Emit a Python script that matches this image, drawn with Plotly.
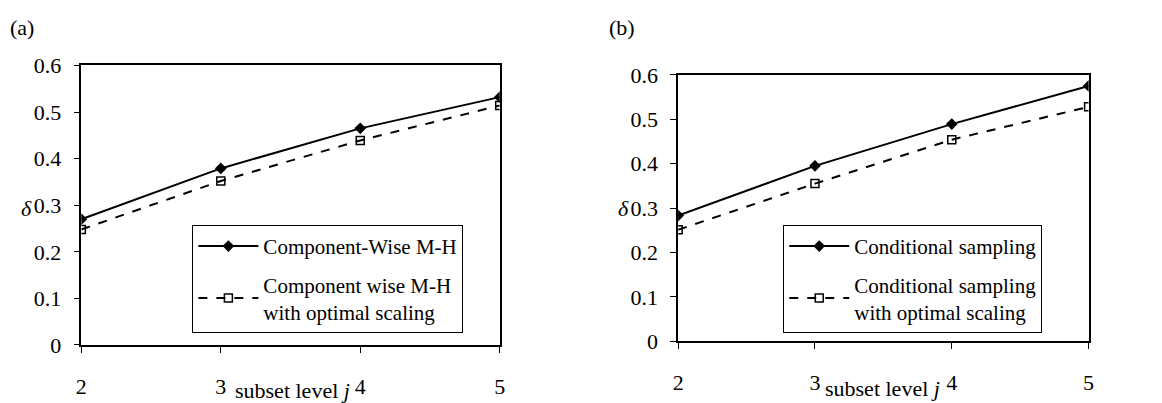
import plotly.graph_objects as go

levels = [2, 3, 4, 5]
a_cw = [0.270, 0.379, 0.465, 0.532]
a_cw_opt = [0.248, 0.352, 0.439, 0.514]
b_cs = [0.283, 0.395, 0.489, 0.575]
b_cs_opt = [0.251, 0.355, 0.454, 0.528]
y_ticks = [0, 0.1, 0.2, 0.3, 0.4, 0.5, 0.6]
y_tick_text = ["0", "0.1", "0.2", "0.3", "0.4", "0.5", "0.6"]

W, H = 1162, 403
FONT = "Liberation Serif"
FS = 22
LFS = 21

def px_x(p):
    return p / W

def px_y(p):
    return 1 - p / H

fig = go.Figure()

solid = dict(color="black", width=2)
dashed = dict(color="black", width=2, dash="dash")
m_d = dict(symbol="diamond", size=9, color="black")
m_s = dict(symbol="square-open", size=8, color="black", line=dict(width=1.5, color="black"))

fig.add_trace(go.Scatter(x=levels, y=a_cw, mode="lines+markers", line=solid, marker=m_d,
                         name="Component-Wise M-H", xaxis="x", yaxis="y", legend="legend", legendgroup="a1"))
fig.add_trace(go.Scatter(x=levels, y=a_cw_opt, mode="lines+markers", line=dashed, marker=m_s,
                         name="Component wise M-H<br>with optimal scaling", xaxis="x", yaxis="y", legend="legend", legendgroup="a2"))
fig.add_trace(go.Scatter(x=levels, y=b_cs, mode="lines+markers", line=solid, marker=m_d,
                         name="Conditional sampling", xaxis="x2", yaxis="y2", legend="legend2", legendgroup="b1"))
fig.add_trace(go.Scatter(x=levels, y=b_cs_opt, mode="lines+markers", line=dashed, marker=m_s,
                         name="Conditional sampling<br>with optimal scaling", xaxis="x2", yaxis="y2", legend="legend2", legendgroup="b2"))

xax = dict(range=[2, 5], tickvals=levels, showgrid=False, zeroline=False, showline=True,
           linecolor="black", linewidth=1.5, mirror=True, ticks="outside", ticklen=6,
           tickcolor="black", ticklabelstandoff=15, tickfont=dict(family=FONT, size=FS, color="black"))
yax = dict(range=[0, 0.6], tickvals=y_ticks, ticktext=y_tick_text, showgrid=False, zeroline=False,
           showline=True, linecolor="black", linewidth=1.5, mirror=True, ticks="outside", ticklen=6,
           tickcolor="black", ticklabelstandoff=8, tickfont=dict(family=FONT, size=FS, color="black"))

leg = dict(bgcolor="white", bordercolor="black", borderwidth=1,
           font=dict(family=FONT, size=LFS, color="black"), xanchor="left", yanchor="top",
           tracegroupgap=8, itemwidth=60)

fig.update_layout(
    width=W, height=H, margin=dict(l=0, r=0, t=0, b=0),
    plot_bgcolor="white", paper_bgcolor="white",
    xaxis=dict(xax, domain=[px_x(77), px_x(499)], anchor="y"),
    yaxis=dict(yax, domain=[px_y(355), px_y(57)], anchor="x"),
    xaxis2=dict(xax, domain=[px_x(679), px_x(1093)], anchor="y2"),
    yaxis2=dict(yax, domain=[px_y(351), px_y(67)], anchor="x2"),
    legend=dict(leg, x=px_x(189), y=px_y(227)),
    legend2=dict(leg, x=px_x(785), y=px_y(227)),
    showlegend=True,
)

ann_font = dict(family=FONT, size=FS, color="black")
anns = [
    dict(text="(a)", x=px_x(3), y=px_y(1), xanchor="left", yanchor="top"),
    dict(text="(b)", x=px_x(607), y=px_y(1), xanchor="left", yanchor="top"),
    dict(text="<i>δ</i>", x=px_x(22), y=px_y(209), xanchor="center", yanchor="middle"),
    dict(text="<i>δ</i>", x=px_x(624), y=px_y(209), xanchor="center", yanchor="middle"),
    dict(text="subset level <i>j</i>", x=px_x(290), y=px_y(404), xanchor="center", yanchor="middle"),
    dict(text="subset level <i>j</i>", x=px_x(885), y=px_y(401), xanchor="center", yanchor="middle"),
]
for a in anns:
    fig.add_annotation(xref="paper", yref="paper", showarrow=False, font=ann_font, **a)

fig.write_html("out.html")
